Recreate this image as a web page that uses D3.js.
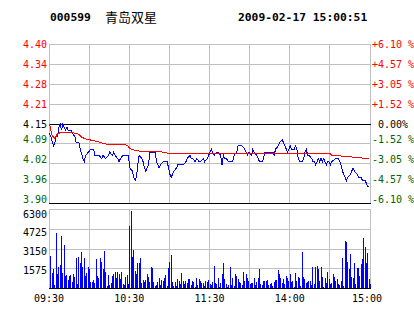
<!DOCTYPE html>
<html>
<head>
<meta charset="utf-8">
<script src="https://cdn.jsdelivr.net/npm/d3@7"></script>
<style>
  body { margin: 0; background: #fff; }
  text { white-space: pre; }
</style>
</head>
<body>
<div id="chart"></div>
<script>
// header
const stockCode = "000599";
const stockName = "青岛双星";
const stamp = "2009-02-17 15:00:51";

// previous close + axis ticks (percent steps from the close)
const prevClose = 4.15;
const pctSteps = [6.10, 4.57, 3.05, 1.52, 0, -1.52, -3.05, -4.57, -6.10];
const priceLabels = ["4.40", "4.34", "4.28", "4.21", "4.15", "4.09", "4.02", "3.96", "3.90"];
const pctLabels = ["+6.10 %", "+4.57 %", "+3.05 %", "+1.52 %", " 0.00%", "-1.52 %", "-3.05 %", "-4.57 %", "-6.10 %"];
const volTicks = [6300, 4725, 3150, 1575];
const timeTicks = [0, 60, 120, 180, 240];
const timeLabels = ["09:30", "10:30", "11:30", "14:00", "15:00"];

// [minute, price]
const price = [
  [0,4.12],[1,4.11],[3,4.08],[4,4.09],[5,4.11],[6,4.11],[7,4.14],[8,4.15],[9,4.13],[10,4.15],
  [11,4.14],[12,4.13],[13,4.14],[14,4.13],[16,4.13],[17,4.12],[19,4.11],[20,4.09],[22,4.09],[23,4.07],
  [25,4.04],[26,4.03],[27,4.05],[29,4.06],[31,4.07],[33,4.07],[34,4.05],[36,4.05],[37,4.05],[39,4.04],
  [40,4.05],[42,4.04],[44,4.05],[45,4.06],[47,4.05],[48,4.06],[49,4.05],[51,4.04],[52,4.03],[53,4.04],
  [55,4.05],[57,4.05],[59,4.05],[60,4.01],[62,4.00],[63,3.98],[64,3.97],[65,3.98],[66,4.02],[67,4.05],
  [69,4.04],[70,4.03],[71,4.01],[72,4.00],[73,4.01],[74,4.02],[75,4.06],[78,4.06],[79,4.06],[80,4.03],
  [82,4.01],[83,4.02],[85,4.03],[86,4.03],[88,4.03],[89,4.01],[90,3.99],[91,3.98],[92,3.99],[93,4.00],
  [95,4.01],[96,4.02],[98,4.02],[99,4.02],[100,4.02],[102,4.03],[103,4.04],[105,4.05],[106,4.04],[107,4.04],
  [109,4.03],[110,4.04],[112,4.03],[113,4.03],[115,4.04],[116,4.03],[118,4.04],[120,4.06],[121,4.07],[122,4.06],
  [123,4.05],[125,4.06],[126,4.06],[128,4.05],[129,4.02],[130,4.05],[131,4.04],[132,4.04],[134,4.03],[137,4.03],
  [138,4.05],[140,4.06],[141,4.08],[144,4.08],[146,4.07],[147,4.06],[148,4.05],[149,4.06],[151,4.05],[152,4.07],
  [153,4.06],[155,4.05],[156,4.04],[157,4.03],[159,4.03],[160,4.04],[161,4.06],[167,4.06],[168,4.05],[169,4.07],
  [171,4.08],[172,4.09],[174,4.10],[175,4.09],[176,4.08],[177,4.07],[178,4.06],[179,4.07],[180,4.08],[181,4.07],
  [183,4.07],[184,4.08],[185,4.07],[186,4.04],[187,4.03],[189,4.03],[190,4.04],[191,4.06],[192,4.07],[193,4.05],
  [194,4.05],[196,4.04],[197,4.03],[198,4.03],[199,4.02],[200,4.03],[201,4.04],[202,4.03],[203,4.04],[204,4.03],
  [205,4.04],[206,4.03],[207,4.02],[208,4.03],[209,4.03],[210,4.02],[211,4.03],[214,4.04],[216,4.04],[217,4.03],
  [218,4.02],[219,4.00],[220,3.99],[221,3.98],[222,3.97],[223,3.98],[225,3.99],[226,4.00],[227,4.01],[228,4.00],
  [230,3.99],[231,3.98],[233,3.98],[234,3.97],[236,3.97],[237,3.96],[238,3.95],[239,3.95]
];

// [minute, average price]
const avgPrice = [
  [0,4.150],[2,4.112],[4,4.104],[6,4.119],[8,4.122],[18,4.122],[22,4.117],[24,4.108],[28,4.101],[32,4.098],
  [37,4.093],[40,4.088],[44,4.085],[58,4.083],[60,4.072],[64,4.066],[68,4.063],[84,4.061],[90,4.056],[120,4.055],
  [210,4.055],[211,4.051],[221,4.047],[228,4.044],[233,4.042],[239,4.040]
];

// volume per minute (minutes 1..240)
const volume = [
  2580,1200,1540,270,4390,1140,1700,1860,4180,1220,3460,1010,1060,690,980,1060,500,1140,930,2420,
  370,2500,2020,2900,1700,2420,1010,1220,1700,1540,500,500,660,430,2340,980,820,2420,2100,1540,
  2980,1300,190,1060,270,430,980,1140,1300,820,1300,1140,750,1300,350,270,910,1060,350,4970,
  6170,2500,3060,1380,1140,2020,2020,2420,430,660,500,660,1140,910,500,1700,1620,500,190,270,
  500,820,270,660,580,820,1060,190,1620,2100,2660,500,190,500,190,750,580,350,1220,580,
  350,580,430,750,750,270,580,500,100,820,270,750,580,430,430,190,580,500,660,350,
  270,500,1780,430,350,820,100,430,1140,2020,750,350,100,270,1700,270,820,190,1140,980,
  750,500,430,270,1300,580,1140,820,580,350,430,430,820,270,500,820,1540,350,270,580,
  580,580,660,270,350,430,190,500,660,660,1460,1140,820,430,750,350,980,820,580,1140,
  500,580,100,1220,580,910,820,190,2900,910,750,430,500,580,580,270,1700,350,1700,1780,
  1540,580,1700,910,100,820,430,1300,750,350,430,1140,910,580,750,350,270,580,2420,190,
  3780,3700,2100,1540,2740,910,820,2020,350,1620,1620,980,1940,2340,4020,3300,2020,2820,750,350
];

const width = 414, height = 314;
const left = 49, right = 370;
const pTop = 44.5, pBot = 203.5;
const vTop = 209.5, vBot = 288.5;

const RED = "#ff0000", GREEN = "#006400", BLUE = "#0000ff", GRID = "#c0c0c0";
const mono = "'DejaVu Sans Mono', monospace";

const svg = d3
  .select("#chart")
  .append("svg")
  .attr("width", width)
  .attr("height", height)
  .style("font-family", mono);

const x = d3.scaleLinear([0, 240], [left, right]);
const y = d3.scaleLinear([-6.1, 6.1], [pBot, pTop]);
const vy = d3.scaleLinear([0, 6300], [vBot, vTop]);
const pct = (p) => (p / prevClose - 1) * 100;
const px = (v) => Math.floor(v) + 0.5;

// title
svg.append("text")
  .attr("x", 50).attr("y", 21)
  .style("font-size", "11.3px").style("font-weight", "bold")
  .text(stockCode);
svg.append("text")
  .attr("x", 105).attr("y", 22)
  .style("font-family", "'Noto Sans CJK SC', sans-serif")
  .style("font-size", "13px")
  .text(stockName);
svg.append("text")
  .attr("x", 238).attr("y", 21)
  .style("font-size", "11.3px").style("font-weight", "bold")
  .text(stamp);

const grid = svg.append("g").attr("shape-rendering", "crispEdges");
const vGrid = d3.range(0, 241, 30);

// price panel grid
grid.selectAll(".pv")
  .data(vGrid)
  .join("line")
  .attr("x1", (d) => px(x(d))).attr("x2", (d) => px(x(d)))
  .attr("y1", pTop).attr("y2", pBot)
  .attr("stroke", GRID);
grid.selectAll(".ph")
  .data(pctSteps)
  .join("line")
  .attr("x1", left).attr("x2", px(x(240)) + 0.5)
  .attr("y1", (d) => px(y(d))).attr("y2", (d) => px(y(d)))
  .attr("stroke", (d) => (d === 0 || d === -6.10 ? "#000" : GRID));

// volume panel grid
grid.selectAll(".vv")
  .data(vGrid)
  .join("line")
  .attr("x1", (d) => px(x(d))).attr("x2", (d) => px(x(d)))
  .attr("y1", vTop).attr("y2", vBot)
  .attr("stroke", GRID);
grid.selectAll(".vh")
  .data(volTicks.concat([0]))
  .join("line")
  .attr("x1", left).attr("x2", px(x(240)) + 0.5)
  .attr("y1", (d) => px(vy(d))).attr("y2", (d) => px(vy(d)))
  .attr("stroke", (d) => (d === 0 ? "#000" : GRID));

// volume bars
svg.append("g")
  .attr("shape-rendering", "crispEdges")
  .selectAll("rect")
  .data(volume)
  .join("rect")
  .attr("x", (d, i) => Math.round(x(i + 1)))
  .attr("width", 1)
  .attr("y", (d) => vy(d))
  .attr("height", (d) => vy(0) - vy(d))
  .attr("fill", BLUE);
// redraw bottom line over bars
svg.append("line")
  .attr("shape-rendering", "crispEdges")
  .attr("x1", left).attr("x2", px(x(240)) + 0.5)
  .attr("y1", px(vy(0))).attr("y2", px(vy(0)))
  .attr("stroke", "#000");

// price + average lines
const line = d3.line()
  .x((d) => x(d[0]) + 0.5)
  .y((d) => y(pct(d[1])));

svg.append("path")
  .datum(price)
  .attr("d", line)
  .attr("fill", "none")
  .attr("stroke", BLUE)
  .attr("stroke-width", 1)
  .attr("shape-rendering", "crispEdges");

svg.append("path")
  .datum(avgPrice)
  .attr("d", line)
  .attr("fill", "none")
  .attr("stroke", RED)
  .attr("stroke-width", 1)
  .attr("shape-rendering", "crispEdges");

// axis labels: the negative side sits just above its grid line
const labelColor = (d) => (d > 0 ? RED : d < 0 ? GREEN : "#000");
const labelY = (d) => y(d) + (d < 0 ? -4.5 : 0);

svg.append("g")
  .style("font-size", "10px")
  .selectAll("text")
  .data(pctSteps)
  .join("text")
  .attr("x", left - 2)
  .attr("y", labelY)
  .attr("dy", "0.35em")
  .attr("text-anchor", "end")
  .attr("fill", labelColor)
  .text((d, i) => priceLabels[i]);

svg.append("g")
  .style("font-size", "10px")
  .selectAll("text")
  .data(pctSteps)
  .join("text")
  .attr("x", right + 2)
  .attr("y", labelY)
  .attr("dy", "0.35em")
  .attr("fill", labelColor)
  .text((d, i) => pctLabels[i]);

svg.append("g")
  .style("font-size", "10px")
  .selectAll("text")
  .data(volTicks)
  .join("text")
  .attr("x", left - 2)
  .attr("y", (d) => vy(d) + 1 + (3.5 * d) / 6300)
  .attr("dy", "0.35em")
  .attr("text-anchor", "end")
  .text((d) => d);

svg.append("g")
  .style("font-size", "10px")
  .selectAll("text")
  .data(timeTicks)
  .join("text")
  .attr("x", (d) => x(d) - (d === 240 ? 3 : 0))
  .attr("y", 298)
  .attr("dy", "0.35em")
  .attr("text-anchor", "middle")
  .text((d, i) => timeLabels[i]);
</script>
</body>
</html>
